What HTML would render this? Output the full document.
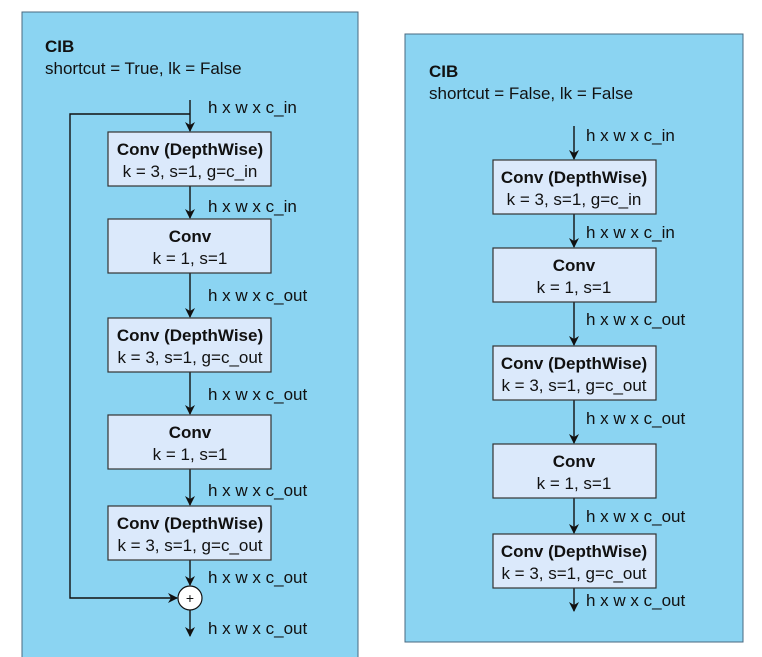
<!DOCTYPE html>
<html><head><meta charset="utf-8"><style>
html,body{margin:0;padding:0;background:#fff;}
svg{display:block;font-family:"Liberation Sans",Arial,sans-serif;}
.t{font-size:17px;fill:#111;}
.b{font-size:17px;font-weight:bold;fill:#111;}
</style></head><body>
<svg width="762" height="657" viewBox="0 0 762 657">
<defs><marker id="a" markerWidth="10" markerHeight="10" refX="9" refY="5" orient="auto" markerUnits="userSpaceOnUse"><path d="M0,0 L10,5 L0,10 L3,5 Z" fill="#111"/></marker></defs>
<rect x="22" y="12" width="336" height="660" fill="#8bd4f2" stroke="#4a6a80" stroke-width="1"/>
<text x="45" y="52" class="b">CIB</text>
<text x="45" y="74" class="t">shortcut = True, lk = False</text>
<g stroke="#111" stroke-width="1.4" fill="none">
<line x1="190" y1="100" x2="190" y2="131" marker-end="url(#a)"/>
<polyline points="190,114 70,114 70,598 177,598" marker-end="url(#a)"/>
<line x1="190" y1="186" x2="190" y2="218" marker-end="url(#a)"/>
<line x1="190" y1="273" x2="190" y2="317" marker-end="url(#a)"/>
<line x1="190" y1="372" x2="190" y2="414" marker-end="url(#a)"/>
<line x1="190" y1="469" x2="190" y2="505" marker-end="url(#a)"/>
<line x1="190" y1="560" x2="190" y2="585" marker-end="url(#a)"/>
<line x1="190" y1="610" x2="190" y2="636" marker-end="url(#a)"/>
</g>
<g fill="#dbe9fb" stroke="#333" stroke-width="1.2">
<rect x="108" y="132" width="163" height="54"/>
<rect x="108" y="219" width="163" height="54"/>
<rect x="108" y="318" width="163" height="54"/>
<rect x="108" y="415" width="163" height="54"/>
<rect x="108" y="506" width="163" height="54"/>
</g>
<circle cx="190" cy="598" r="12" fill="#fff" stroke="#111" stroke-width="1.2"/>
<text x="190" y="603" text-anchor="middle" class="t" style="font-size:14px">+</text>
<g text-anchor="middle">
<text x="190" y="155" class="b">Conv (DepthWise)</text><text x="190" y="177" class="t">k = 3, s=1, g=c_in</text>
<text x="190" y="242" class="b">Conv</text><text x="190" y="264" class="t">k = 1, s=1</text>
<text x="190" y="341" class="b">Conv (DepthWise)</text><text x="190" y="363" class="t">k = 3, s=1, g=c_out</text>
<text x="190" y="438" class="b">Conv</text><text x="190" y="460" class="t">k = 1, s=1</text>
<text x="190" y="529" class="b">Conv (DepthWise)</text><text x="190" y="551" class="t">k = 3, s=1, g=c_out</text>
</g>
<text x="208" y="113" class="t">h x w x c_in</text>
<text x="208" y="212" class="t">h x w x c_in</text>
<text x="208" y="301" class="t">h x w x c_out</text>
<text x="208" y="400" class="t">h x w x c_out</text>
<text x="208" y="496" class="t">h x w x c_out</text>
<text x="208" y="583" class="t">h x w x c_out</text>
<text x="208" y="634" class="t">h x w x c_out</text>
<rect x="405" y="34" width="338" height="608" fill="#8bd4f2" stroke="#4a6a80" stroke-width="1"/>
<text x="429" y="77" class="b">CIB</text>
<text x="429" y="99" class="t">shortcut = False, lk = False</text>
<g stroke="#111" stroke-width="1.4" fill="none">
<line x1="574" y1="126" x2="574" y2="159" marker-end="url(#a)"/>
<line x1="574" y1="214" x2="574" y2="247" marker-end="url(#a)"/>
<line x1="574" y1="302" x2="574" y2="345" marker-end="url(#a)"/>
<line x1="574" y1="400" x2="574" y2="443" marker-end="url(#a)"/>
<line x1="574" y1="498" x2="574" y2="533" marker-end="url(#a)"/>
<line x1="574" y1="588" x2="574" y2="611" marker-end="url(#a)"/>
</g>
<g fill="#dbe9fb" stroke="#333" stroke-width="1.2">
<rect x="493" y="160" width="163" height="54"/>
<rect x="493" y="248" width="163" height="54"/>
<rect x="493" y="346" width="163" height="54"/>
<rect x="493" y="444" width="163" height="54"/>
<rect x="493" y="534" width="163" height="54"/>
</g>
<g text-anchor="middle">
<text x="574" y="183" class="b">Conv (DepthWise)</text><text x="574" y="205" class="t">k = 3, s=1, g=c_in</text>
<text x="574" y="271" class="b">Conv</text><text x="574" y="293" class="t">k = 1, s=1</text>
<text x="574" y="369" class="b">Conv (DepthWise)</text><text x="574" y="391" class="t">k = 3, s=1, g=c_out</text>
<text x="574" y="467" class="b">Conv</text><text x="574" y="489" class="t">k = 1, s=1</text>
<text x="574" y="557" class="b">Conv (DepthWise)</text><text x="574" y="579" class="t">k = 3, s=1, g=c_out</text>
</g>
<text x="586" y="141" class="t">h x w x c_in</text>
<text x="586" y="238" class="t">h x w x c_in</text>
<text x="586" y="325" class="t">h x w x c_out</text>
<text x="586" y="424" class="t">h x w x c_out</text>
<text x="586" y="522" class="t">h x w x c_out</text>
<text x="586" y="606" class="t">h x w x c_out</text>
</svg>
</body></html>
